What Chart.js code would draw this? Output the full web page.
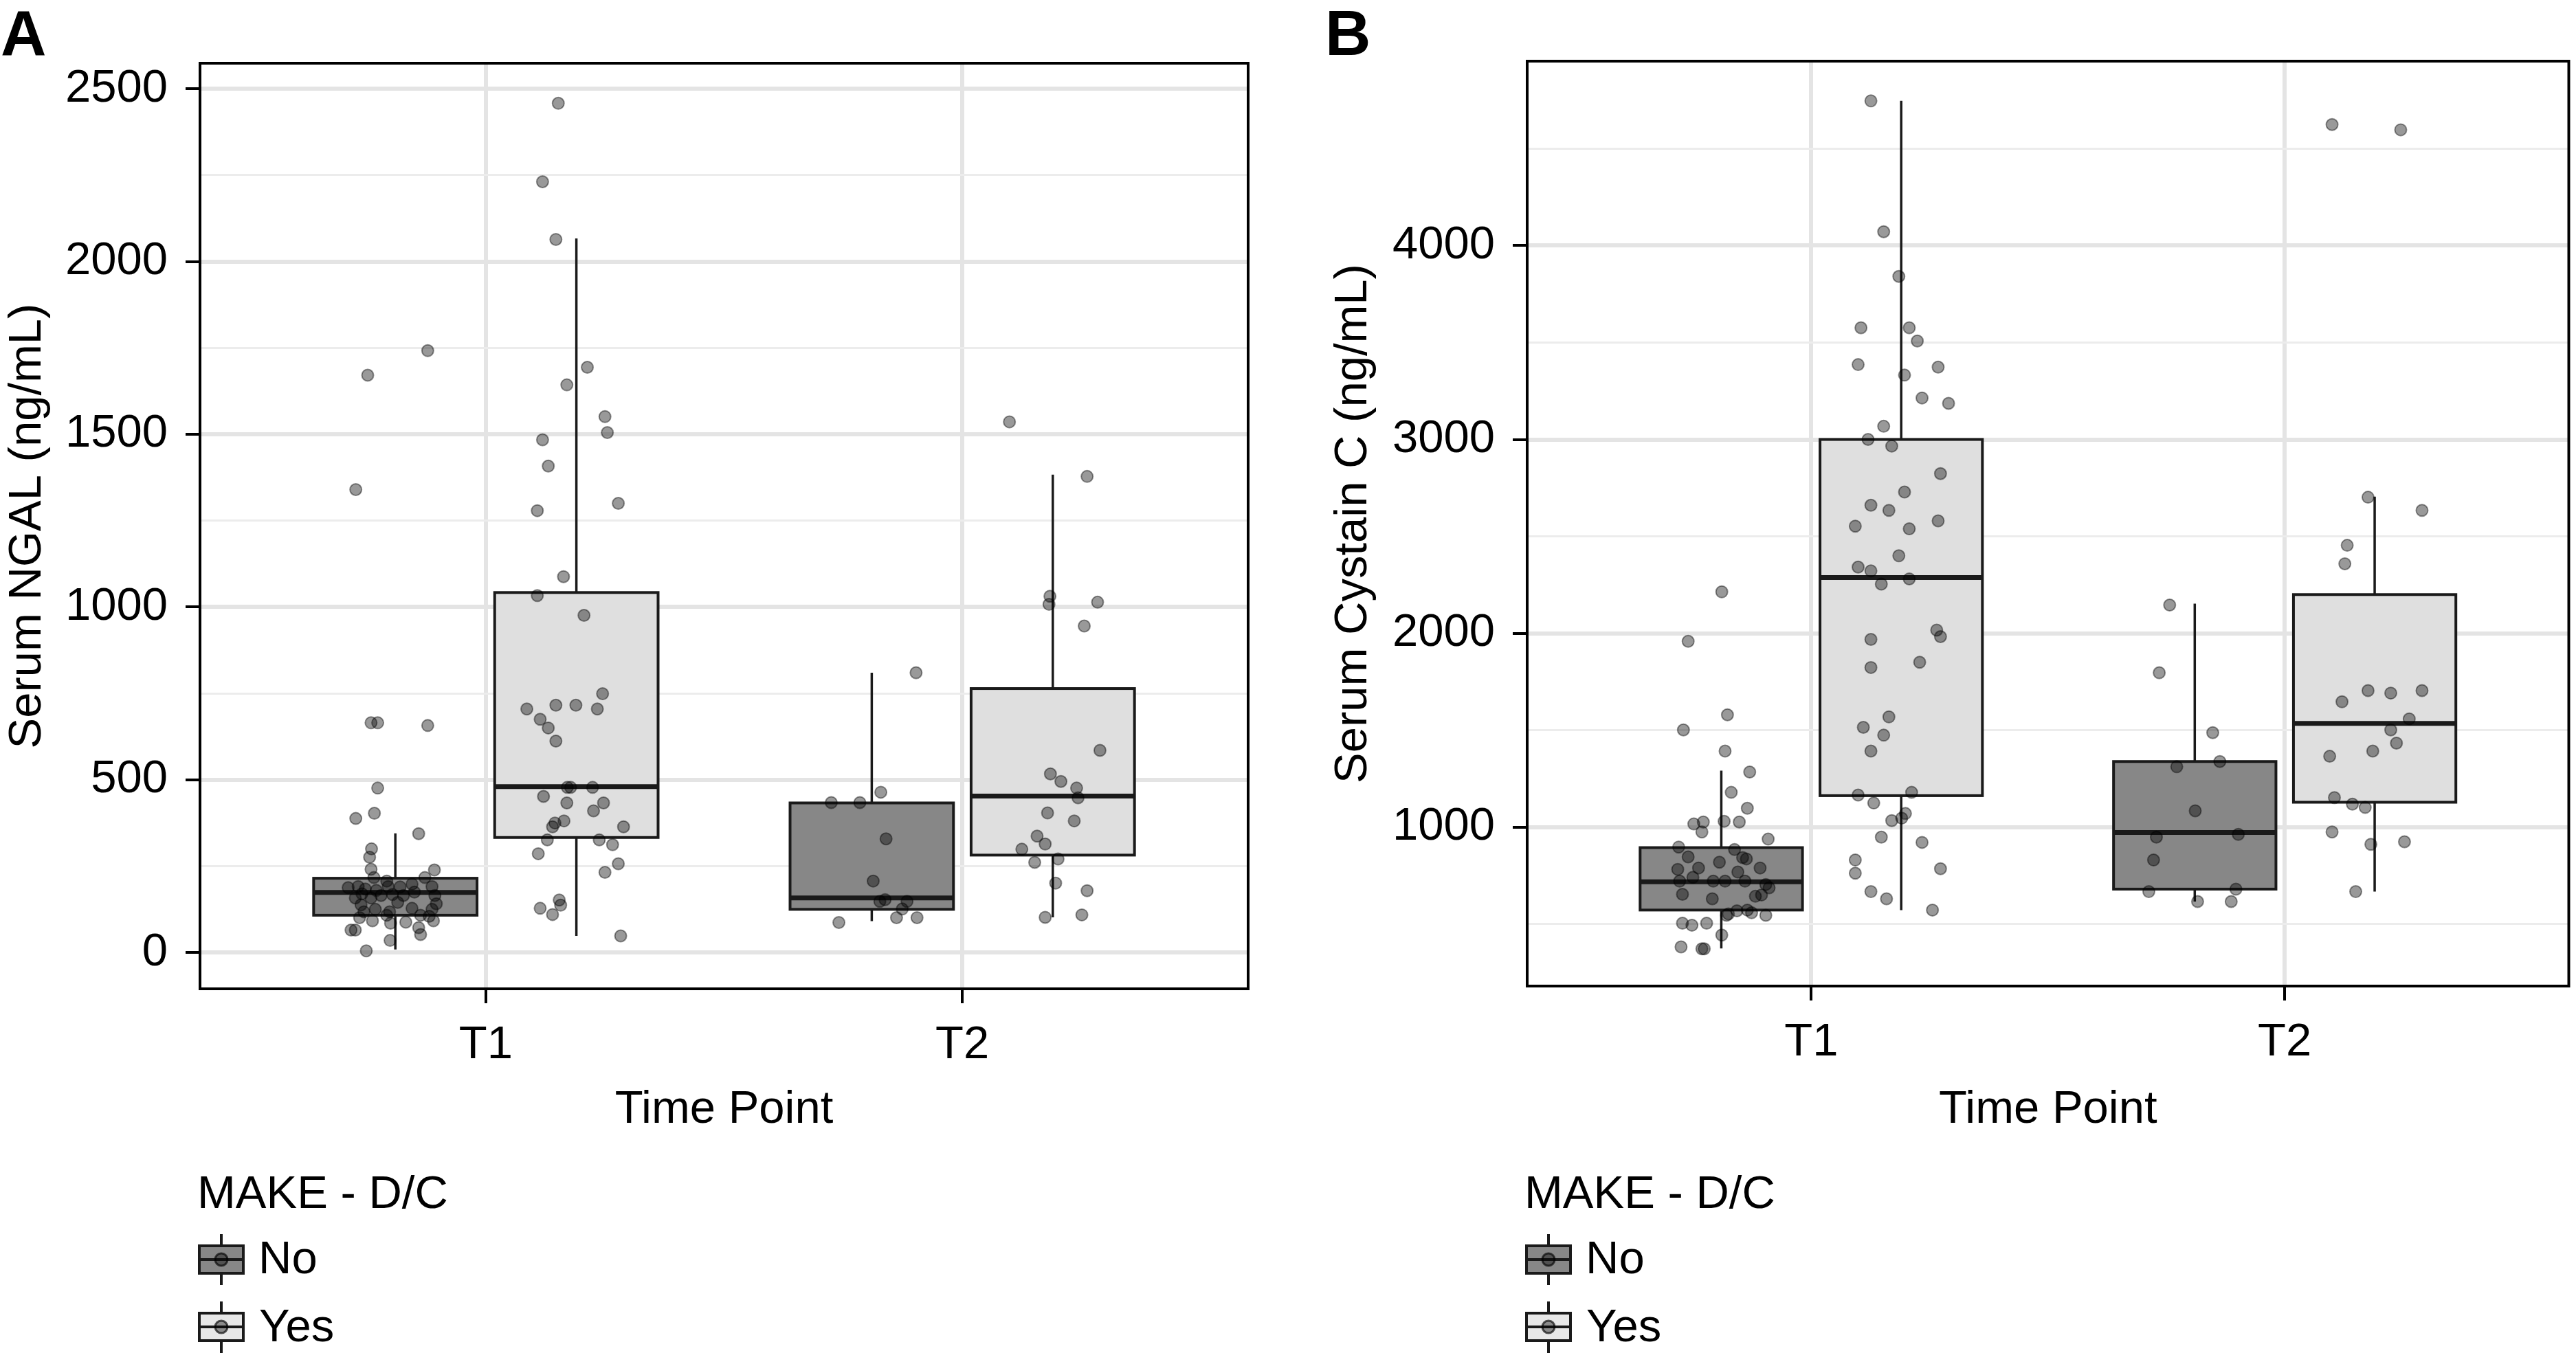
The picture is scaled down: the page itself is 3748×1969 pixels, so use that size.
<!DOCTYPE html>
<html><head><meta charset="utf-8">
<script src="https://cdn.jsdelivr.net/npm/chart.js@4.4.1/dist/chart.umd.min.js"></script>
<style>
html,body{margin:0;padding:0;background:#fff;}
body{width:3748px;height:1969px;position:relative;overflow:hidden;font-family:"Liberation Sans",Arial,Helvetica,sans-serif;color:#000;}
.panel{position:absolute;top:0;width:1874px;height:1969px;}
.panel canvas{position:absolute;left:0;top:0;}
.letter{position:absolute;top:2px;font-weight:bold;font-size:92px;line-height:92px;}
.lg{position:absolute;font-size:67px;line-height:67px;white-space:nowrap;}
svg.keys{position:absolute;left:0;top:0;}
</style></head><body>

<div class="panel" style="left:0"><canvas id="cA" width="1874" height="1969"></canvas></div>
<div class="panel" style="left:1874px"><canvas id="cB" width="1874" height="1969"></canvas></div>

<div class="letter" style="left:1px">A</div>
<div class="letter" style="left:1928px">B</div>

<div class="lg" style="left:287px;top:1701px">MAKE - D/C</div>
<div class="lg" style="left:376px;top:1796px">No</div>
<div class="lg" style="left:377px;top:1895px">Yes</div>
<div class="lg" style="left:2218px;top:1701px">MAKE - D/C</div>
<div class="lg" style="left:2307px;top:1796px">No</div>
<div class="lg" style="left:2308px;top:1895px">Yes</div>

<svg class="keys" width="3748" height="1969" xmlns="http://www.w3.org/2000/svg">
  <g>
    <line x1="322" y1="1796" x2="322" y2="1870" stroke="#1a1a1a" stroke-width="4"/>
    <rect x="290" y="1813" width="64" height="40" fill="#878787" stroke="#1a1a1a" stroke-width="4"/>
    <line x1="290" y1="1833" x2="354" y2="1833" stroke="#1a1a1a" stroke-width="4"/>
    <circle cx="322" cy="1833" r="9" fill="rgba(0,0,0,0.4)" stroke="rgba(0,0,0,0.65)" stroke-width="3"/>
    <line x1="322" y1="1894" x2="322" y2="1969" stroke="#1a1a1a" stroke-width="4"/>
    <rect x="290" y="1911" width="64" height="40" fill="#e8e8e8" stroke="#1a1a1a" stroke-width="4"/>
    <line x1="290" y1="1931" x2="354" y2="1931" stroke="#1a1a1a" stroke-width="4"/>
    <circle cx="322" cy="1931" r="9" fill="rgba(0,0,0,0.4)" stroke="rgba(0,0,0,0.65)" stroke-width="3"/>
  </g>
  <g transform="translate(1931,0)">
    <line x1="322" y1="1796" x2="322" y2="1870" stroke="#1a1a1a" stroke-width="4"/>
    <rect x="290" y="1813" width="64" height="40" fill="#878787" stroke="#1a1a1a" stroke-width="4"/>
    <line x1="290" y1="1833" x2="354" y2="1833" stroke="#1a1a1a" stroke-width="4"/>
    <circle cx="322" cy="1833" r="9" fill="rgba(0,0,0,0.4)" stroke="rgba(0,0,0,0.65)" stroke-width="3"/>
    <line x1="322" y1="1894" x2="322" y2="1969" stroke="#1a1a1a" stroke-width="4"/>
    <rect x="290" y="1911" width="64" height="40" fill="#e8e8e8" stroke="#1a1a1a" stroke-width="4"/>
    <line x1="290" y1="1931" x2="354" y2="1931" stroke="#1a1a1a" stroke-width="4"/>
    <circle cx="322" cy="1931" r="9" fill="rgba(0,0,0,0.4)" stroke="rgba(0,0,0,0.65)" stroke-width="3"/>
  </g>
</svg>

<script>
// ---------------- DATA ----------------
const categories = ['T1', 'T2'];
const groups = ['No', 'Yes'];

const yTicksA = [0, 500, 1000, 1500, 2000, 2500];
const yMinorA = [250, 750, 1250, 1750, 2250];
const yTicksB = [1000, 2000, 3000, 4000];
const yMinorB = [500, 1500, 2500, 3500, 4500];

// box stats per time point: [lower whisker, Q1, median, Q3, upper whisker]
const ngalNoBox  = [[9, 108, 174, 215, 345], [91, 125, 158, 433, 810]];
const ngalYesBox = [[48, 333, 480, 1042, 2067], [102, 282, 453, 764, 1383]];
const cysNoBox   = [[375, 573, 719, 895, 1292], [617, 681, 973, 1339, 2153]];
const cysYesBox  = [[573, 1163, 2288, 3000, 4746], [668, 1129, 1536, 2200, 2705]];

// jittered observations: [time-axis position, value]
const ngalNoPts = [
  [0.727,1340],[0.752,1671],[0.878,1742],[0.759,665],[0.773,665],[0.878,657],[0.773,476],[0.727,388],[0.766,403],[0.859,344],[0.760,300],[0.756,276],[0.759,241],[0.892,239],
  [0.711,188],[0.732,191],[0.747,184],[0.765,217],[0.792,207],[0.795,191],[0.780,165],[0.759,158],[0.738,138],[0.726,158],[0.804,168],[0.827,165],[0.845,198],[0.872,217],[0.887,191],[0.893,165],[0.896,141],[0.887,125],[0.845,128],[0.798,118],[0.768,125],[0.744,118],[0.792,108],[0.815,145],[0.863,108],[0.881,105],[0.735,101],
  [0.717,65],[0.726,65],[0.799,35],[0.749,5],[0.832,88],[0.863,52],[0.859,72],[0.762,92],[0.890,92],[0.800,85],
  [0.770,180],[0.820,190],[0.850,175],[0.740,170],
  [1.725,434],[1.785,434],[1.829,464],[1.903,810],[1.840,329],[1.813,207],[1.838,153],[1.884,148],[1.874,126],[1.827,148],[1.862,101],[1.905,101],[1.741,87]
];
const ngalYesPts = [
  [1.152,2458],[1.119,2231],[1.147,2064],[1.213,1694],[1.170,1643],[1.250,1551],[1.255,1505],[1.119,1484],[1.131,1408],[1.278,1300],[1.108,1279],[1.163,1088],[1.108,1033],[1.206,976],[1.245,749],[1.086,705],[1.147,716],[1.189,716],[1.234,705],[1.114,675],[1.131,650],[1.147,612],[1.121,452],[1.170,433],[1.178,478],[1.171,478],[1.224,478],[1.226,410],[1.247,433],[1.289,364],[1.164,381],[1.140,364],[1.145,375],[1.129,326],[1.110,286],[1.238,326],[1.266,312],[1.278,257],[1.250,232],[1.154,152],[1.157,137],[1.114,128],[1.140,110],[1.283,48],
  [2.289,585],[2.185,517],[2.207,495],[2.240,476],[2.243,448],[2.179,404],[2.235,381],[2.157,337],[2.174,314],[2.125,299],[2.152,261],[2.201,271],[2.196,201],[2.262,179],[2.174,102],[2.251,109],[2.099,1536],[2.262,1378],[2.184,1031],[2.182,1008],[2.284,1014],[2.256,945]
];
const cysNoPts = [
  [0.811,2214],[0.740,1959],[0.823,1580],[0.730,1502],[0.818,1393],[0.870,1285],[0.831,1180],[0.865,1098],[0.752,1017],[0.772,1027],[0.816,1031],[0.848,1027],[0.769,976],[0.909,939],[0.720,898],[0.838,885],[0.740,847],[0.806,820],[0.855,844],[0.863,837],[0.718,783],[0.762,790],[0.845,769],[0.892,790],[0.722,722],[0.750,742],[0.793,722],[0.818,722],[0.860,722],[0.904,705],[0.911,688],[0.728,654],[0.791,631],[0.882,644],[0.895,651],[0.865,573],[0.874,559],[0.821,546],[0.904,546],[0.728,505],[0.748,495],[0.779,505],[0.811,444],[0.725,383],[0.769,373],[0.774,373],[0.825,553],[0.843,569],
  [1.757,2146],[1.735,1797],[1.848,1488],[1.772,1312],[1.863,1339],[1.811,1085],[1.729,949],[1.902,963],[1.723,831],[1.713,668],[1.897,681],[1.816,617],[1.887,617]
];
const cysYesPts = [
  [1.126,4746],[1.153,4071],[1.185,3841],[1.105,3576],[1.207,3576],[1.224,3508],[1.099,3386],[1.197,3332],[1.268,3373],[1.234,3214],[1.290,3186],[1.153,3068],[1.120,3000],[1.170,2966],[1.273,2824],[1.197,2729],[1.126,2661],[1.164,2634],[1.268,2580],[1.093,2553],[1.207,2539],[1.185,2400],[1.099,2342],[1.126,2322],[1.148,2254],[1.207,2281],[1.265,2017],[1.273,1983],[1.126,1969],[1.229,1851],[1.126,1824],[1.164,1569],[1.110,1515],[1.153,1475],[1.126,1393],[1.099,1166],[1.132,1125],[1.212,1180],[1.199,1071],[1.170,1034],[1.191,1047],[1.148,949],[1.234,922],[1.093,831],[1.093,763],[1.273,786],[1.126,668],[1.159,631],[1.256,573],
  [2.100,4624],[2.245,4597],[2.176,2702],[2.290,2634],[2.132,2454],[2.127,2359],[2.176,1705],[2.224,1692],[2.290,1705],[2.121,1647],[2.263,1559],[2.224,1502],[2.236,1434],[2.186,1393],[2.095,1366],[2.105,1153],[2.143,1119],[2.170,1102],[2.100,976],[2.182,912],[2.253,925],[2.150,668]
];

// ---------------- STYLE ----------------
const FONT = '"Liberation Sans", Arial, Helvetica, sans-serif';
const FS = 67;
const FILL_NO = '#878787', FILL_YES = '#dfdfdf';
const DODGE = 0.19, BOXW = 0.343;
const GRID_MAJOR = '#e4e4e4', GRID_MINOR = '#ececec';

function boxPlugin(boxes) {
  return {
    id: 'boxes',
    beforeDatasetsDraw(chart) {
      const {ctx, scales: {x, y}} = chart;
      ctx.save();
      ctx.strokeStyle = '#1a1a1a';
      boxes.forEach(b => {
        b.stats.forEach((s, i) => {
          const c = i + 1 + b.offset;
          const xl = x.getPixelForValue(c - BOXW / 2), xr = x.getPixelForValue(c + BOXW / 2), xc = x.getPixelForValue(c);
          const [lo, q1, med, q3, hi] = s.map(v => y.getPixelForValue(v));
          ctx.lineWidth = 3.5;
          ctx.beginPath(); ctx.moveTo(xc, q3); ctx.lineTo(xc, hi); ctx.moveTo(xc, q1); ctx.lineTo(xc, lo); ctx.stroke();
          ctx.fillStyle = b.fill;
          ctx.fillRect(xl, q3, xr - xl, q1 - q3);
          ctx.lineWidth = 4;
          ctx.strokeRect(xl, q3, xr - xl, q1 - q3);
          ctx.lineWidth = 7;
          ctx.beginPath(); ctx.moveTo(xl, med); ctx.lineTo(xr, med); ctx.stroke();
        });
      });
      ctx.restore();
    },
    afterDraw(chart) {
      const {ctx, chartArea: a} = chart;
      ctx.save();
      ctx.strokeStyle = '#000'; ctx.lineWidth = 4;
      ctx.strokeRect(a.left, a.top, a.right - a.left, a.bottom - a.top);
      ctx.restore();
    }
  };
}

function toXY(arr) { return arr.map(p => ({x: p[0], y: p[1]})); }

function makeChart(id, cfg) {
  const major = new Set(cfg.majorTicks);
  const allTicks = cfg.majorTicks.concat(cfg.minorTicks).sort((a, b) => a - b);
  const pointStyle = {
    type: 'scatter', showLine: false, pointRadius: 8.5, pointHoverRadius: 8.5, pointBorderWidth: 2,
    pointBackgroundColor: 'rgba(0,0,0,0.4)', pointBorderColor: 'rgba(0,0,0,0.42)'
  };
  return new Chart(document.getElementById(id), {
    type: 'scatter',
    data: {
      datasets: [
        Object.assign({label: groups[0], data: toXY(cfg.noPts)}, pointStyle),
        Object.assign({label: groups[1], data: toXY(cfg.yesPts)}, pointStyle)
      ]
    },
    options: {
      responsive: false, maintainAspectRatio: false, animation: false,
      layout: {padding: cfg.padding},
      plugins: {legend: {display: false}, tooltip: {enabled: false}},
      scales: {
        x: {
          type: 'linear', min: 0.4, max: 2.6,
          afterBuildTicks: s => { s.ticks = categories.map((c, i) => ({value: i + 1})); },
          afterFit: s => { s.height = cfg.xHeight; },
          ticks: {autoSkip: false, maxRotation: 0, padding: 21, color: '#000', font: {family: FONT, size: FS},
                  callback: v => categories[Math.round(v) - 1]},
          grid: {color: GRID_MAJOR, lineWidth: 6, tickLength: 21, tickColor: '#000', tickWidth: 4},
          border: {display: false},
          title: {display: true, text: 'Time Point', color: '#000', font: {family: FONT, size: FS, lineHeight: 1.2}, padding: {top: 0, bottom: 0}}
        },
        y: {
          type: 'linear', min: cfg.yMin, max: cfg.yMax,
          afterBuildTicks: s => { s.ticks = allTicks.map(v => ({value: v})); },
          afterFit: s => { s.width = cfg.yWidth; },
          ticks: {autoSkip: false, padding: 26, color: '#000', font: {family: FONT, size: FS},
                  callback: v => major.has(v) ? String(v) : ''},
          grid: {
            color: c => (c.tick && major.has(c.tick.value)) ? GRID_MAJOR : GRID_MINOR,
            lineWidth: c => (c.tick && major.has(c.tick.value)) ? 6 : 3,
            tickLength: 21,
            tickColor: c => (c.tick && major.has(c.tick.value)) ? '#000' : 'rgba(0,0,0,0)',
            tickWidth: 4
          },
          border: {display: false},
          title: {display: true, text: cfg.yTitle, color: '#000', font: {family: FONT, size: FS, lineHeight: 1.2}, padding: {top: 0, bottom: 0}}
        }
      }
    },
    plugins: [boxPlugin([
      {stats: cfg.noBox, offset: -DODGE, fill: FILL_NO},
      {stats: cfg.yesBox, offset: DODGE, fill: FILL_YES}
    ])]
  });
}

makeChart('cA', {
  noPts: ngalNoPts, yesPts: ngalYesPts, noBox: ngalNoBox, yesBox: ngalYesBox,
  majorTicks: yTicksA, minorTicks: yMinorA, yMin: -105, yMax: 2574,
  yTitle: 'Serum NGAL (ng/mL)',
  padding: {top: 92, left: 0, right: 58, bottom: 313}, yWidth: 291, xHeight: 217
});
makeChart('cB', {
  noPts: cysNoPts, yesPts: cysYesPts, noBox: cysNoBox, yesBox: cysYesBox,
  majorTicks: yTicksB, minorTicks: yMinorB, yMin: 181, yMax: 4951,
  yTitle: 'Serum Cystain C (ng/mL)',
  padding: {top: 89, left: 55, right: 3, bottom: 313}, yWidth: 293, xHeight: 221
});
</script>
</body></html>
